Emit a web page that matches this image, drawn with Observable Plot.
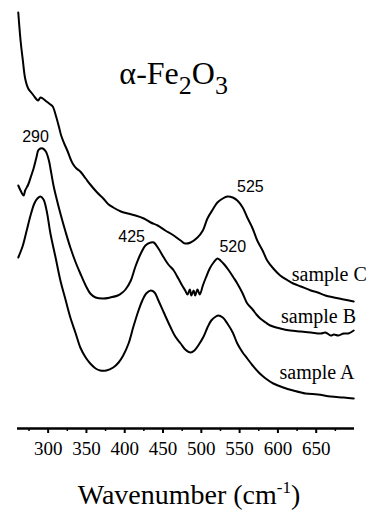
<!DOCTYPE html>
<html><head><meta charset="utf-8">
<script src="https://cdn.jsdelivr.net/npm/d3@7"></script>
<script src="https://cdn.jsdelivr.net/npm/@observablehq/plot@0.6"></script>
<style>html,body{margin:0;padding:0;background:#fff}</style>
</head><body><div id="chart"></div>
<script>
// Wavenumber (cm^-1) and relative intensity (arbitrary units)
const wnA = [261,267,272,277,282,286,290,294,298,303,310,316,323,329,336,342,349,355,362,368,376,385,392,398,405,411,418,423,428,434,439,444,451,460,466,473,479,486,491,496,503,508,513,519,522,528,534,541,547,554,560,567,575,584,594,607,620,636,652,669,686,699];
const intA = [1.71,1.83,1.98,2.13,2.25,2.30,2.32,2.29,2.18,1.95,1.70,1.48,1.28,1.11,0.95,0.81,0.71,0.65,0.60,0.58,0.58,0.61,0.66,0.73,0.85,1.01,1.18,1.28,1.35,1.38,1.36,1.28,1.16,1.01,0.92,0.85,0.79,0.76,0.78,0.83,0.92,1.01,1.08,1.12,1.13,1.11,1.05,0.96,0.85,0.76,0.70,0.63,0.56,0.50,0.45,0.41,0.38,0.35,0.34,0.32,0.31,0.30];

const wnB = [261,264,268,270,274,278,281,285,287,290,293,297,301,303,307,310,316,323,329,336,342,349,355,362,372,381,391,397,401,408,414,421,427,434,438,444,451,457,464,470,475,479,482,485,487,490,492,495,498,502,506,511,516,521,525,530,536,542,547,554,560,567,572,577,584,590,603,616,630,643,656,662,669,673,679,686,692,699];
const intB = [2.43,2.38,2.33,2.38,2.44,2.53,2.60,2.72,2.78,2.80,2.80,2.77,2.68,2.60,2.43,2.33,2.15,1.96,1.81,1.66,1.55,1.43,1.35,1.31,1.30,1.31,1.33,1.36,1.39,1.48,1.62,1.75,1.83,1.86,1.86,1.80,1.71,1.64,1.58,1.50,1.43,1.38,1.34,1.39,1.33,1.38,1.33,1.39,1.34,1.43,1.51,1.60,1.66,1.70,1.68,1.64,1.58,1.51,1.45,1.35,1.25,1.19,1.14,1.10,1.06,1.03,1.00,0.98,0.97,0.96,0.95,0.96,0.93,0.94,0.93,0.95,0.95,0.98];

const wnC = [261,264,267,270,274,278,281,285,287,290,293,298,303,306,310,314,317,321,325,329,332,337,342,349,355,364,372,379,385,395,404,414,425,434,443,453,464,473,479,486,495,502,508,515,521,528,534,541,547,554,560,567,573,580,586,594,603,613,620,630,643,652,662,673,686,699];
const intC = [4.16,3.88,3.68,3.50,3.40,3.36,3.33,3.29,3.28,3.31,3.30,3.27,3.24,3.22,3.13,3.02,2.93,2.85,2.78,2.70,2.65,2.60,2.57,2.50,2.44,2.36,2.30,2.24,2.21,2.17,2.15,2.13,2.10,2.06,2.03,1.98,1.93,1.88,1.85,1.86,1.91,1.98,2.10,2.19,2.26,2.30,2.32,2.31,2.28,2.21,2.11,2.00,1.88,1.78,1.68,1.60,1.53,1.48,1.45,1.42,1.38,1.36,1.33,1.31,1.29,1.27];

const majorTicks = [300,350,400,450,500,550,600,650];
const minorTicks = [275,325,375,425,475,525,575,625,675];

// peak annotations: text, wavenumber, intensity
const peakText = ["290","425","520","525"];
const peakWn = [283.5,409,541,564];
const peakInt = [2.92,1.92,1.82,2.42];

const sampleText = ["sample A","sample B","sample C"];
const sampleWn = [651,653,667];
const sampleInt = [0.56,1.12,1.54];

const titleText = "α-Fe2O3";
const titleWn = 393, titleInt = 3.55;
const axisTitle = "Wavenumber (cm-1)";

const rows = [];
[["A", wnA, intA], ["B", wnB, intB], ["C", wnC, intC]].forEach(([s, w, v]) =>
  w.forEach((x, i) => rows.push({sample: s, wn: x, intensity: v[i]})));
const peaks = peakText.map((t, i) => ({t, wn: peakWn[i], v: peakInt[i]}));
const samples = sampleText.map((t, i) => ({t, wn: sampleWn[i], v: sampleInt[i]}));

const serif = "'Liberation Serif', 'Times New Roman', serif";
const sans = "'Liberation Sans', Arial, sans-serif";

const plot = Plot.plot({
  width: 371, height: 510,
  marginLeft: 17, marginRight: 17, marginTop: 0, marginBottom: 82,
  style: {fontFamily: serif, background: "#fff", color: "#000"},
  x: {domain: [260, 700]},
  y: {domain: [0, 4.28], axis: null},
  marks: [
    Plot.ruleY([0], {strokeWidth: 2.5, stroke: "#000"}),
    Plot.axisX({ticks: minorTicks, tickSize: 3, strokeWidth: 1.5, tickFormat: () => "", label: null}),
    Plot.axisX({ticks: majorTicks, tickSize: 5, strokeWidth: 2, tickFormat: () => "", label: null}),
    Plot.text(majorTicks, {x: d => d, text: d => String(d), frameAnchor: "bottom", lineAnchor: "middle", dy: 20, fontFamily: serif, fontSize: 19, fill: "#000"}),
    Plot.line(rows, {x: "wn", y: "intensity", z: "sample", stroke: "#000", strokeWidth: 2, curve: "catmull-rom"}),
    Plot.text(peaks, {x: "wn", y: "v", text: "t", fontFamily: sans, fontSize: 16, fill: "#000"}),
    Plot.text(samples, {x: "wn", y: "v", text: "t", fontFamily: serif, fontSize: 20, fill: "#000"}),
    Plot.text([titleText], {x: () => titleWn, y: () => titleInt, text: d => d, textAnchor: "start", fontFamily: serif, fontSize: 32, fill: "#000"}),
    Plot.text([axisTitle], {frameAnchor: "bottom", lineAnchor: "middle", dy: 67, dx: 3, text: d => d, fontFamily: serif, fontSize: 28, fill: "#000"})
  ]
});
document.getElementById("chart").appendChild(plot);

// typographic sub/superscripts
const NS = "http://www.w3.org/2000/svg";
function tspan(parent, txt, size, dy) {
  const t = document.createElementNS(NS, "tspan");
  t.textContent = txt;
  t.setAttribute("font-size", size);
  if (dy) t.setAttribute("dy", dy);
  parent.appendChild(t);
}
plot.querySelectorAll("text").forEach(el => {
  if (el.textContent === titleText) {
    el.textContent = "";
    tspan(el, "α-Fe", 32, 0);
    tspan(el, "2", 26, 10);
    tspan(el, "O", 32, -10);
    tspan(el, "3", 26, 10);
  } else if (el.textContent === axisTitle) {
    el.textContent = "";
    tspan(el, "Wavenumber (cm", 28, 0);
    tspan(el, "-1", 17, -11);
    tspan(el, ")", 28, 11);
  }
});
</script>
</body></html>
